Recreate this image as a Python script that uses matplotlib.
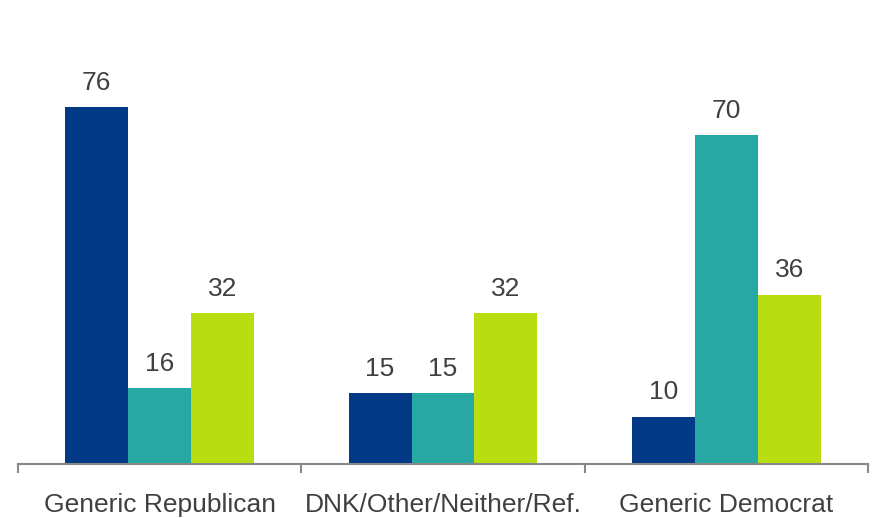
import matplotlib
matplotlib.use('Agg')
import matplotlib.pyplot as plt
import numpy as np

plt.rcParams['font.family'] = ['Liberation Sans', 'DejaVu Sans']

categories = ['Generic Republican', 'DNK/Other/Neither/Ref.', 'Generic Democrat']
series_1 = [76, 15, 10]
series_2 = [16, 15, 70]
series_3 = [32, 32, 36]

colors = ['#033a87', '#27a8a3', '#b8dd10']
text_color = '#404040'
axis_color = '#898989'

fig = plt.figure(figsize=(8.73, 5.18), dpi=100)
ax = fig.add_axes([18 / 873, 54.5 / 518, 850 / 873, 422 / 518])

x = np.arange(len(categories))
w = 0.222
for k, (vals, c) in enumerate(zip([series_1, series_2, series_3], colors)):
    xs = x + (k - 1) * w
    bars = ax.bar(xs, vals, width=w, color=c, linewidth=0)
    for xi, v in zip(xs, vals):
        ax.annotate(str(v), (xi, v), xytext=(0, 9), textcoords='offset points',
                    ha='center', va='bottom', fontsize=19, color=text_color)

ax.set_xlim(-0.5, len(categories) - 0.5)
ax.set_ylim(0, 90)

ax.set_xticks(x)
ax.set_xticklabels(categories, fontsize=19, color=text_color)
ax.tick_params(axis='x', which='major', length=0, pad=21)
ax.set_xticks(np.arange(len(categories) + 1) - 0.5, minor=True)
ax.tick_params(axis='x', which='minor', length=6.5, width=1.5, color=axis_color)

ax.set_yticks([])
for s in ['top', 'right', 'left']:
    ax.spines[s].set_visible(False)
ax.spines['bottom'].set_color(axis_color)
ax.spines['bottom'].set_linewidth(1.5)

fig.savefig('out.png', dpi=100)
